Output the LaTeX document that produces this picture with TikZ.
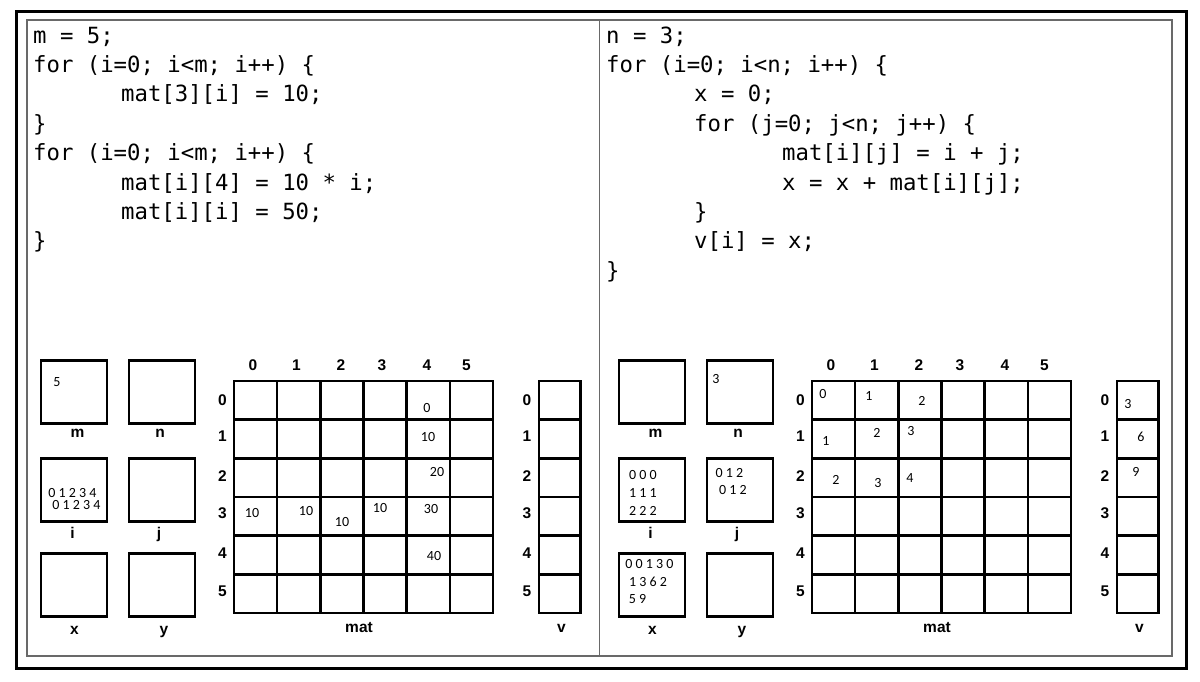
\documentclass[tikz,border=0pt]{standalone}
\usepackage{fontspec}
\usepackage{tikz}
\usepackage{xcolor}
\newfontfamily\cfont{DejaVu Sans Mono}
\newfontfamily\lblfont{Liberation Sans}
\newfontfamily\valfont{Carlito}
\definecolor{framegray}{RGB}{105,105,105}

\tikzset{
  codeline/.style={anchor=base west, inner sep=0pt, font=\cfont\fontsize{22.3}{26}\selectfont},
  varbox/.style={draw, line width=2.8pt, minimum width=66pt, minimum height=63pt, inner sep=0pt},
  cell/.style={draw, line width=2.6pt, minimum width=43.17pt, minimum height=38.67pt, inner sep=0pt},
  vcell/.style={cell, minimum width=41.5pt},
  idx/.style={font=\lblfont\bfseries\fontsize{15.5}{17}\selectfont, inner sep=0pt},
  val/.style={font=\valfont\fontsize{14}{16}\selectfont, inner sep=0pt},
}

\begin{document}
\begin{tikzpicture}[x=1pt,y=-1pt]
    \useasboundingbox (0,0) rectangle (1200,682);

    % Frames
    \draw [line width=3pt] (16,11.5) rectangle (1186.5,668);
    \draw [framegray,line width=1.2pt] (27,20) rectangle (1172,656);
    \draw [framegray,line width=1.2pt] (599.5,20) to (599.5,656);

    % Code, left
    \node [codeline] (Lc1) at (33,43.3)  {m = 5;};
    \node [codeline] (Lc2) at (33,72.7)  {for (i=0; i<m; i++) \{};
    \node [codeline] (Lc3) at (121,102)  {mat[3][i] = 10;};
    \node [codeline] (Lc4) at (33,131.4) {\}};
    \node [codeline] (Lc5) at (33,160.7) {for (i=0; i<m; i++) \{};
    \node [codeline] (Lc6) at (121,190)  {mat[i][4] = 10 * i;};
    \node [codeline] (Lc7) at (121,219.4){mat[i][i] = 50;};
    \node [codeline] (Lc8) at (33,248.8) {\}};

    % Code, right
    \node [codeline] (Rc1) at (606,43.3)  {n = 3;};
    \node [codeline] (Rc2) at (606,72.7)  {for (i=0; i<n; i++) \{};
    \node [codeline] (Rc3) at (694,102)   {x = 0;};
    \node [codeline] (Rc4) at (694,131.4) {for (j=0; j<n; j++) \{};
    \node [codeline] (Rc5) at (782,160.7) {mat[i][j] = i + j;};
    \node [codeline] (Rc6) at (782,190)   {x = x + mat[i][j];};
    \node [codeline] (Rc7) at (694,219.4) {\}};
    \node [codeline] (Rc8) at (694,248.8) {v[i] = x;};
    \node [codeline] (Rc9) at (606,278.2) {\}};

    % Variables, matrix and vector (same layout in both panels)
    \foreach \p/\dx in {L/0,R/578} {
      \begin{scope}[xshift=\dx]
        \node [varbox] (\p m) at (74,392) {};
        \node [varbox] (\p n) at (162,392) {};
        \node [varbox] (\p i) at (74,490) {};
        \node [varbox] (\p j) at (162,490) {};
        \node [varbox] (\p x) at (74,585) {};
        \node [varbox] (\p y) at (162,585) {};
        \node [idx,anchor=base] (\p lm) at (77.5,437) {m};
        \node [idx,anchor=base] (\p ln) at (160,437) {n};
        \node [idx,anchor=base] (\p li) at (72.5,538) {i};
        \node [idx,anchor=base] (\p lj) at (159,538) {j};
        \node [idx,anchor=base] (\p lx) at (74.5,634) {x};
        \node [idx,anchor=base] (\p ly) at (164,634) {y};

        \foreach \r in {0,...,5} {
          \foreach \c in {0,...,5}
            \node [cell] (\p mat-\r-\c) at ({255.6+\c*43.17},{400.3+\r*38.67}) {};
          \node [vcell] (\p v-\r) at (559.75,{400.3+\r*38.67}) {};
        }
        \foreach \c/\hx in {0/253,1/296.5,2/341,3/382,4/427,5/466.5}
          \node [idx] (\p col-\c) at (\hx,365) {\c};
        \foreach \r/\ry in {0/400,1/436,2/476,3/513,4/553,5/591} {
          \node [idx] (\p row-\r) at (222.5,\ry) {\r};
          \node [idx] (\p vrow-\r) at (527,\ry) {\r};
        }
        \node [idx,anchor=base] (\p lmat) at (359,632) {mat};
        \node [idx,anchor=base] (\p lv) at (561.5,632) {v};
      \end{scope}
    }

    % Values, left
    \node [val] (Lvm) at (57,382) {5};
    \node [val] (Lvi1) at (72.5,493) {0 1 2 3 4};
    \node [val] (Lvi2) at (76.5,505) {0 1 2 3 4};
    \node [val] (Lv04) at (427,408) {0};
    \node [val] (Lv14) at (428,437) {10};
    \node [val] (Lv24) at (437,472) {20};
    \node [val] (Lv34) at (431,509) {30};
    \node [val] (Lv44) at (434,556) {40};
    \node [val] (Lv30) at (252,513) {10};
    \node [val] (Lv31) at (306,511) {10};
    \node [val] (Lv32) at (342,522) {10};
    \node [val] (Lv33) at (380,508) {10};

    % Values, right
    \node [val] (Rvn) at (716,379) {3};
    \node [val] (Rvi1) at (643,475) {0 0 0};
    \node [val] (Rvi2) at (643,493) {1 1 1};
    \node [val] (Rvi3) at (643,511) {2 2 2};
    \node [val] (Rvj1) at (729.5,473) {0 1 2};
    \node [val] (Rvj2) at (733,490) {0 1 2};
    \node [val] (Rvx1) at (649.5,564) {0 0 1 3 0};
    \node [val] (Rvx2) at (648,582) {1 3 6 2};
    \node [val] (Rvx3) at (637.5,599) {5 9};
    \node [val] (Rv00) at (823,394) {0};
    \node [val] (Rv01) at (869,396) {1};
    \node [val] (Rv02) at (922,401) {2};
    \node [val] (Rv10) at (826,441) {1};
    \node [val] (Rv11) at (877,433) {2};
    \node [val] (Rv12) at (911,431) {3};
    \node [val] (Rv20) at (836,480) {2};
    \node [val] (Rv21) at (878,483) {3};
    \node [val] (Rv22) at (910,478) {4};
    \node [val] (Rvv0) at (1128,404) {3};
    \node [val] (Rvv1) at (1141,437) {6};
    \node [val] (Rvv2) at (1136,472) {9};
\end{tikzpicture}
\end{document}
